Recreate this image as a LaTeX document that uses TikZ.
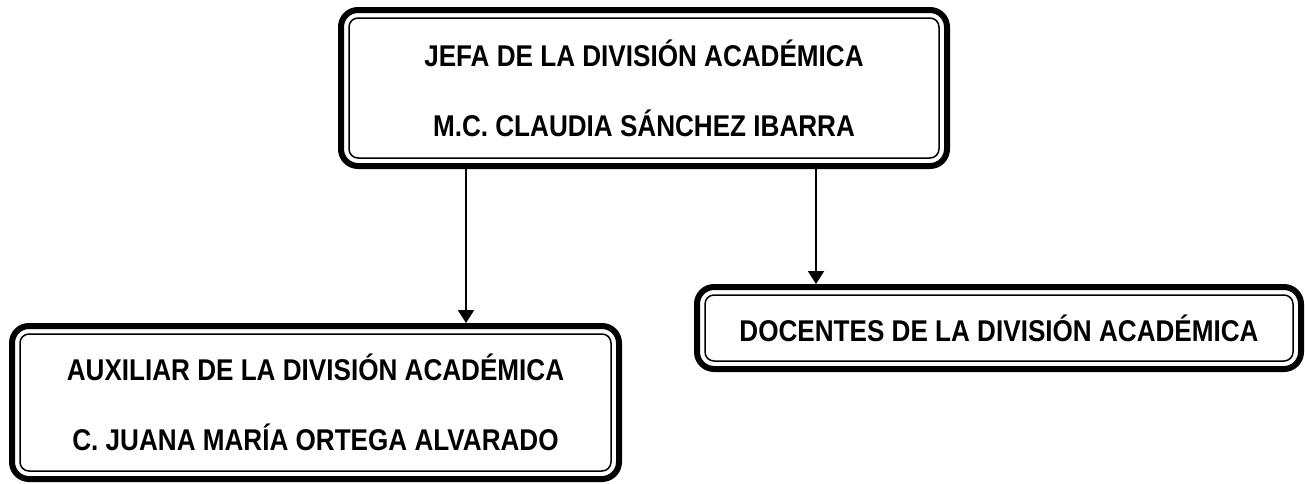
\documentclass[tikz,border=0pt]{standalone}
\usepackage{fontspec}
\setmainfont{Liberation Sans}[FakeStretch=0.87]
\usetikzlibrary{arrows.meta}

\begin{document}
\begin{tikzpicture}[x=1pt,y=-1pt,
  caja/.style={draw, line width=6pt, rounded corners=17pt, align=center,
    font=\fontsize{30}{70}\selectfont\bfseries},
  marco/.style={draw, line width=1.5pt, rounded corners=9pt},
  flecha/.style={-{Triangle[width=16pt,length=13pt]}, line width=2pt}]
\useasboundingbox (0,0) rectangle (1305,483);

\node[caja, minimum width=606pt, minimum height=156pt] (jefa) at (644,88)
  {JEFA DE LA DIVISIÓN ACADÉMICA\\M.C. CLAUDIA SÁNCHEZ IBARRA};
\node[caja, minimum width=607pt, minimum height=153pt] (aux) at (315.5,402.5)
  {AUXILIAR DE LA DIVISIÓN ACADÉMICA\\C. JUANA MARÍA ORTEGA ALVARADO};
\node[caja, minimum width=604pt, minimum height=82pt] (doc) at (999,328)
  {DOCENTES DE LA DIVISIÓN ACADÉMICA};

% marco interior delgado
\foreach \n in {jefa,aux,doc}
  \draw[marco] ([shift={(11,11)}]\n.north west) rectangle ([shift={(-11,-11)}]\n.south east);

\coordinate (izq) at (466,250);
\coordinate (der) at (816,250);
\draw[flecha] (jefa.south -| izq) -- (aux.north -| izq);
\draw[flecha] (jefa.south -| der) -- (doc.north -| der);
\end{tikzpicture}
\end{document}
